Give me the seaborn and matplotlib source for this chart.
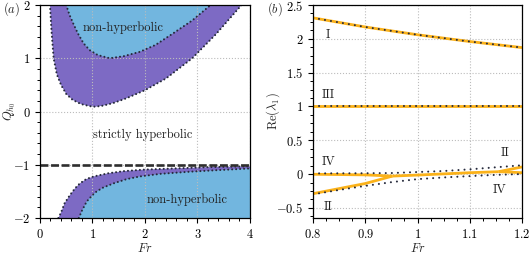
import numpy as np
import pandas as pd
import matplotlib
matplotlib.use("Agg")
import matplotlib.pyplot as plt
import matplotlib.ticker as mticker
import seaborn as sns

# ---------------- data ----------------
# panel (a): boundaries of the hyperbolicity regions
up_outer_fr = [0.19, 0.22, 0.26, 0.32, 0.40, 0.50, 0.62, 0.78, 0.95, 1.05, 1.20, 1.40, 1.65, 2.00, 2.40, 2.90, 3.35, 3.84]
up_outer_q = [2.00, 1.50, 1.00, 0.70, 0.50, 0.33, 0.22, 0.14, 0.10, 0.09, 0.11, 0.16, 0.25, 0.40, 0.62, 1.00, 1.45, 2.00]
up_inner_fr = [0.50, 0.56, 0.63, 0.72, 0.83, 0.95, 1.10, 1.33, 1.60, 1.90, 2.20, 2.54, 2.90, 3.25]
up_inner_q = [2.00, 1.82, 1.66, 1.47, 1.28, 1.15, 1.06, 1.00, 1.04, 1.12, 1.25, 1.47, 1.71, 2.00]
lo_outer_fr = [0.35, 0.40, 0.47, 0.57, 0.67, 0.76, 0.88, 1.02, 1.30, 1.59, 2.00, 2.54, 3.20, 4.00]
lo_outer_q = [-2.00, -1.90, -1.72, -1.57, -1.44, -1.35, -1.27, -1.22, -1.16, -1.12, -1.09, -1.07, -1.045, -1.03]
lo_inner_fr = [0.74, 0.80, 0.89, 1.00, 1.08, 1.20, 1.40, 1.65, 1.90, 2.30, 2.86, 3.40, 4.00]
lo_inner_q = [-2.00, -1.86, -1.69, -1.57, -1.50, -1.43, -1.35, -1.27, -1.22, -1.17, -1.13, -1.10, -1.07]
q_limit = -1.0

# panel (b): real parts of eigenvalues
fr_b = [0.8, 0.9, 1.0, 1.1, 1.2]
re_I = [2.31, 2.175, 2.06, 1.96, 1.87]
re_III = [1.0, 1.0, 1.0, 1.0, 1.0]
# yellow branches near zero
iv_left_fr = [0.8, 0.9, 0.952]
iv_left_re = [-0.003, -0.012, -0.03]
ii_left_fr = [0.8, 0.9, 0.952]
ii_left_re = [-0.29, -0.14, -0.03]
merged_fr = [0.952, 1.0, 1.1, 1.155]
merged_re = [-0.03, -0.015, 0.02, 0.035]
ii_right_fr = [1.155, 1.2]
ii_right_re = [0.035, 0.105]
iv_right_fr = [1.155, 1.2]
iv_right_re = [0.035, 0.02]
# dotted reference curves near zero
dot_up_fr = [0.8, 0.9, 0.95, 1.0, 1.05, 1.1, 1.15, 1.2]
dot_up_re = [0.01, 0.012, 0.015, 0.03, 0.045, 0.07, 0.10, 0.13]
dot_lo_fr = [0.8, 0.85, 0.9, 0.95, 1.0, 1.05, 1.1, 1.15, 1.2]
dot_lo_re = [-0.30, -0.235, -0.175, -0.12, -0.075, -0.05, -0.03, -0.012, 0.0]

a_xticks = [0, 1, 2, 3, 4]
a_yticks = [-2, -1, 0, 1, 2]
b_xticks = [0.8, 0.9, 1.0, 1.1, 1.2]
b_yticks = [-0.5, 0, 0.5, 1, 1.5, 2, 2.5]

# ---------------- style ----------------
sns.set_theme(style="ticks")
plt.rcParams.update({
    "font.family": ["cmr10", "DejaVu Serif"],
    "mathtext.fontset": "cm",
    "axes.formatter.use_mathtext": True,
    "font.size": 9,
    "axes.linewidth": 0.9,
    "axes.edgecolor": "black",
    "xtick.color": "black",
    "ytick.color": "black",
    "xtick.direction": "out",
    "ytick.direction": "out",
    "xtick.major.size": 3.5,
    "ytick.major.size": 3.5,
    "xtick.minor.size": 2.0,
    "ytick.minor.size": 2.0,
    "xtick.major.width": 0.8,
    "ytick.major.width": 0.8,
    "xtick.minor.width": 0.7,
    "ytick.minor.width": 0.7,
    "xtick.minor.visible": True,
    "ytick.minor.visible": True,
    "xtick.labelsize": 9,
    "ytick.labelsize": 9,
    "axes.labelsize": 9,
})

PURPLE = "#7d6ac4"
BLUE = "#72b6df"
DOTC = "#262a3c"
YELLOW = "#fbb21a"
GRIDC = "#bcbcbc"

fig = plt.figure(figsize=(5.31, 2.54), dpi=100)
axa = fig.add_axes([0.0753, 0.1417, 0.3955, 0.8386])
axb = fig.add_axes([0.5895, 0.1417, 0.3936, 0.8386])

fmt = mticker.FuncFormatter(lambda v, p: f"${v:g}$")
DOT_A = (0, (0.01, 1.9))
DOT_B = (0, (0.01, 2.9))

# ---------------- panel (a) ----------------
axa.set_xlim(0, 4)
axa.set_ylim(-2, 2)
axa.fill(up_outer_fr, up_outer_q, color=PURPLE, lw=0, zorder=1)
axa.fill(up_inner_fr, up_inner_q, color=BLUE, lw=0, zorder=1.1)
axa.fill(lo_outer_fr + [4.0, lo_outer_fr[0]], lo_outer_q + [-2.0, -2.0], color=PURPLE, lw=0, zorder=1)
axa.fill(lo_inner_fr + [4.0, lo_inner_fr[0]], lo_inner_q + [-2.0, -2.0], color=BLUE, lw=0, zorder=1.1)
axa.set_xticks(a_xticks)
axa.set_yticks(a_yticks)
axa.xaxis.set_minor_locator(mticker.MultipleLocator(0.2))
axa.yaxis.set_minor_locator(mticker.MultipleLocator(0.2))
axa.xaxis.set_major_formatter(fmt)
axa.yaxis.set_major_formatter(fmt)
axa.grid(True, which="major", ls=":", lw=0.8, color=GRIDC)
axa.set_axisbelow(False)
for gl in axa.get_xgridlines() + axa.get_ygridlines():
    gl.set_zorder(1.5)

for fr, q in [(up_outer_fr, up_outer_q), (up_inner_fr, up_inner_q),
              (lo_outer_fr, lo_outer_q), (lo_inner_fr, lo_inner_q)]:
    df = pd.DataFrame({"Fr": fr, "Q": q})
    sns.lineplot(data=df, x="Fr", y="Q", ax=axa, sort=False, color=DOTC,
                 lw=1.5, ls=DOT_A, dash_capstyle="round", zorder=3)
axa.axhline(q_limit, color="#2e2e2e", lw=1.9, ls=(0, (3, 1)), zorder=4)

axa.text(1.58, 1.57, "non-hyperbolic", ha="center", va="center", color="#222222", zorder=5)
axa.text(1.96, -0.44, "strictly hyperbolic", ha="center", va="center", color="#222222", zorder=5)
axa.text(2.8, -1.65, "non-hyperbolic", ha="center", va="center", color="#222222", zorder=5)
axa.set_xlabel("$Fr$", labelpad=1)
axa.set_ylabel("$Q_{h_0}$", va="center")
axa.yaxis.set_label_coords(-0.145, 0.5)
for s in axa.spines.values():
    s.set_zorder(6)

# ---------------- panel (b) ----------------
axb.set_xlim(0.8, 1.2)
axb.set_ylim(-0.65, 2.5)
axb.set_xticks(b_xticks)
axb.set_yticks(b_yticks)
axb.xaxis.set_minor_locator(mticker.MultipleLocator(0.025))
axb.yaxis.set_minor_locator(mticker.MultipleLocator(0.125))
axb.xaxis.set_major_formatter(fmt)
axb.yaxis.set_major_formatter(fmt)
axb.grid(True, which="major", ls=":", lw=0.8, color=GRIDC)

yellow_sets = [(fr_b, re_I), (fr_b, re_III), (iv_left_fr, iv_left_re), (ii_left_fr, ii_left_re),
               (merged_fr, merged_re), (ii_right_fr, ii_right_re), (iv_right_fr, iv_right_re)]
for fr, re in yellow_sets:
    df = pd.DataFrame({"Fr": fr, "Re": re})
    sns.lineplot(data=df, x="Fr", y="Re", ax=axb, sort=False, color=YELLOW,
                 lw=2.0, solid_capstyle="butt", zorder=3)
for fr, re in [(fr_b, re_I), (fr_b, re_III), (dot_up_fr, dot_up_re), (dot_lo_fr, dot_lo_re)]:
    df = pd.DataFrame({"Fr": fr, "Re": re})
    sns.lineplot(data=df, x="Fr", y="Re", ax=axb, sort=False, color=DOTC,
                 lw=1.5, ls=DOT_B, dash_capstyle="round", zorder=4)

for x, y, t in [(0.829, 2.06, "I"), (0.829, 1.17, "III"), (0.829, 0.18, "IV"),
                (1.167, 0.31, "II"), (1.158, -0.24, "IV"), (0.829, -0.48, "II")]:
    axb.text(x, y, t, ha="center", va="center", color="#222222", zorder=5)
axb.set_xlabel("$Fr$", labelpad=1)
axb.set_ylabel(r"$\mathrm{Re}(\lambda_1)$", va="center")
axb.yaxis.set_label_coords(-0.19, 0.5)
for s in axb.spines.values():
    s.set_zorder(6)

fig.text(0.006, 0.965, "($a$)", ha="left", va="center", fontsize=9)
fig.text(0.503, 0.965, "($b$)", ha="left", va="center", fontsize=9)

fig.savefig("out.png", dpi=100)
